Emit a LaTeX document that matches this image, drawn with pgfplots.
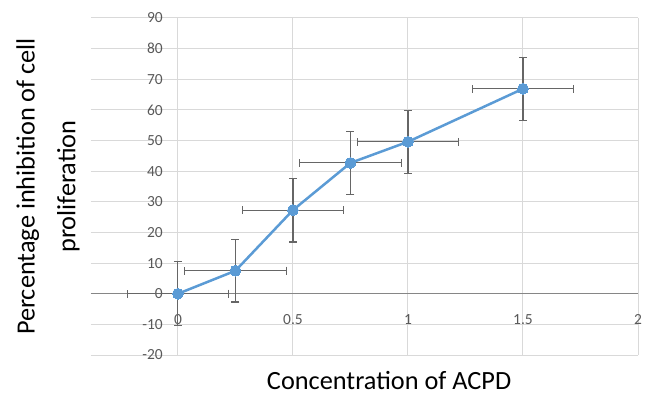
\documentclass[border=0pt]{standalone}
\usepackage{pgfplots}
\pgfplotsset{compat=1.18}
\usepackage{fontspec}
\setmainfont{Carlito}
\definecolor{lineblue}{HTML}{5B9BD5}
\definecolor{gridgray}{HTML}{D9D9D9}
\definecolor{axisgray}{HTML}{868686}
\definecolor{ticktext}{HTML}{595959}
\definecolor{errgray}{HTML}{666666}
\begin{document}
\begin{tikzpicture}
\begin{axis}[
  scale only axis, width=547bp, height=337bp,
  xmin=-0.378, xmax=2, ymin=-20, ymax=90,
  axis lines=middle, axis line style={-},
  x axis line style={axisgray, line width=1bp},
  y axis line style={gridgray, line width=1bp},
  xtick={0,0.5,1,1.5,2}, ytick={-20,-10,...,90},
  grid=major, grid style={gridgray, line width=1bp},
  major tick length=0pt,
  hide obscured x ticks=false, hide obscured y ticks=false,
  tick label style={font=\fontsize{15.5}{18}\selectfont, text=ticktext},
  /pgf/number format/assume math mode=true,
  xticklabel style={anchor=north, inner sep=0pt, yshift=-21bp},
  yticklabel style={anchor=east, inner sep=0pt, xshift=-15bp},
  xlabel={Concentration of ACPD},
  ylabel={Percentage inhibition of cell\\proliferation},
  xlabel style={at={(axis description cs:0.545,0)}, anchor=base, inner sep=0pt, yshift=-34bp, font=\fontsize{26.4}{41}\selectfont},
  ylabel style={at={([xshift=-43bp]axis description cs:0,0.5)}, anchor=center, rotate=90, align=center, font=\fontsize{26.4}{41}\selectfont},
  clip=false,
]
\addplot[color=lineblue, line width=2.5bp, mark=*, mark size=5.4bp,
  mark options={fill=lineblue, draw=lineblue, line width=0pt},
  error bars/.cd, x dir=both, x explicit, y dir=both, y explicit,
  error bar style={errgray, line width=1.1bp},
  error mark options={errgray, line width=1.1bp, mark size=4bp, rotate=90}]
coordinates {
  (0,0) +- (0.22,10.4)
  (0.25,7.5) +- (0.22,10.2)
  (0.5,27.3) +- (0.22,10.4)
  (0.75,42.7) +- (0.22,10.3)
  (1,49.6) +- (0.22,10.3)
  (1.5,66.9) +- (0.22,10.3)
};
\end{axis}
\pgfresetboundingbox
\path[use as bounding box] ([xshift=-91bp,yshift=-40bp]current axis.south west) rectangle ++(651bp,395bp);
\end{tikzpicture}
\end{document}
